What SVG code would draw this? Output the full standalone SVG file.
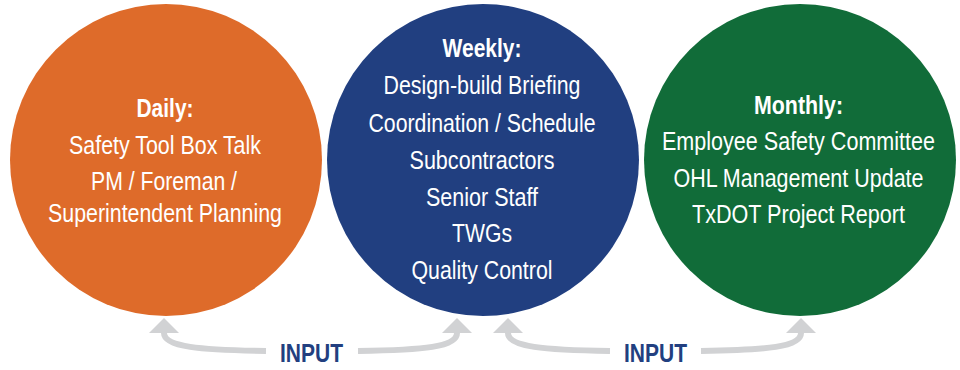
<svg xmlns="http://www.w3.org/2000/svg" width="960" height="370" viewBox="0 0 960 370">
<style>
.t{font-family:"Liberation Sans",Arial,sans-serif;font-size:25px;fill:#ffffff;text-anchor:middle}
.h{font-weight:bold}
.lbl{font-family:"Liberation Sans",Arial,sans-serif;font-size:26px;font-weight:bold;fill:#223F80;text-anchor:middle}
.arr{fill:none;stroke:#D1D2D4;stroke-width:6}
</style>
<defs>
<marker id="ah" markerUnits="userSpaceOnUse" markerWidth="16" markerHeight="32" viewBox="0 -16 16 32" refX="0" refY="0" orient="auto">
<path d="M0,-15 L15,0 L0,15 z" fill="#D1D2D4"/>
</marker>
</defs>
<rect width="960" height="370" fill="#ffffff"/>
<g id="daily">
<circle cx="166" cy="160" r="156" fill="#DE6B2A"/>
<text class="t h" x="165" y="117" textLength="57" lengthAdjust="spacingAndGlyphs">Daily:</text>
<text class="t" x="165" y="154" textLength="192" lengthAdjust="spacingAndGlyphs">Safety Tool Box Talk</text>
<text class="t" x="164" y="190" textLength="146" lengthAdjust="spacingAndGlyphs">PM / Foreman /</text>
<text class="t" x="165" y="222" textLength="234" lengthAdjust="spacingAndGlyphs">Superintendent Planning</text>
</g>
<g id="weekly">
<circle cx="483" cy="160" r="156" fill="#213F80"/>
<text class="t h" x="482" y="57" textLength="79" lengthAdjust="spacingAndGlyphs">Weekly:</text>
<text class="t" x="482" y="94" textLength="197" lengthAdjust="spacingAndGlyphs">Design-build Briefing</text>
<text class="t" x="482" y="132" textLength="227" lengthAdjust="spacingAndGlyphs">Coordination / Schedule</text>
<text class="t" x="482" y="169" textLength="145" lengthAdjust="spacingAndGlyphs">Subcontractors</text>
<text class="t" x="482" y="206" textLength="112" lengthAdjust="spacingAndGlyphs">Senior Staff</text>
<text class="t" x="482" y="242" textLength="60" lengthAdjust="spacingAndGlyphs">TWGs</text>
<text class="t" x="482" y="279" textLength="141" lengthAdjust="spacingAndGlyphs">Quality Control</text>
</g>
<g id="monthly">
<circle cx="800" cy="160" r="156" fill="#116C39"/>
<text class="t h" x="798.5" y="114" textLength="89" lengthAdjust="spacingAndGlyphs">Monthly:</text>
<text class="t" x="798.5" y="150" textLength="273" lengthAdjust="spacingAndGlyphs">Employee Safety Committee</text>
<text class="t" x="798.5" y="187" textLength="250" lengthAdjust="spacingAndGlyphs">OHL Management Update</text>
<text class="t" x="798.5" y="223" textLength="213" lengthAdjust="spacingAndGlyphs">TxDOT Project Report</text>
</g>
<g id="connectors">
<path class="arr" d="M266,351 C200,350 164,347 164,333" marker-end="url(#ah)"/>
<path class="arr" d="M358,351 C424,350 457,347 457,333" marker-end="url(#ah)"/>
<path class="arr" d="M610,351 C544,350 508,347 508,333" marker-end="url(#ah)"/>
<path class="arr" d="M701,351 C767,350 801,347 801,333" marker-end="url(#ah)"/>
<text class="lbl" x="311.5" y="362" textLength="63" lengthAdjust="spacingAndGlyphs">INPUT</text>
<text class="lbl" x="655.5" y="362" textLength="63" lengthAdjust="spacingAndGlyphs">INPUT</text>
</g>
</svg>
